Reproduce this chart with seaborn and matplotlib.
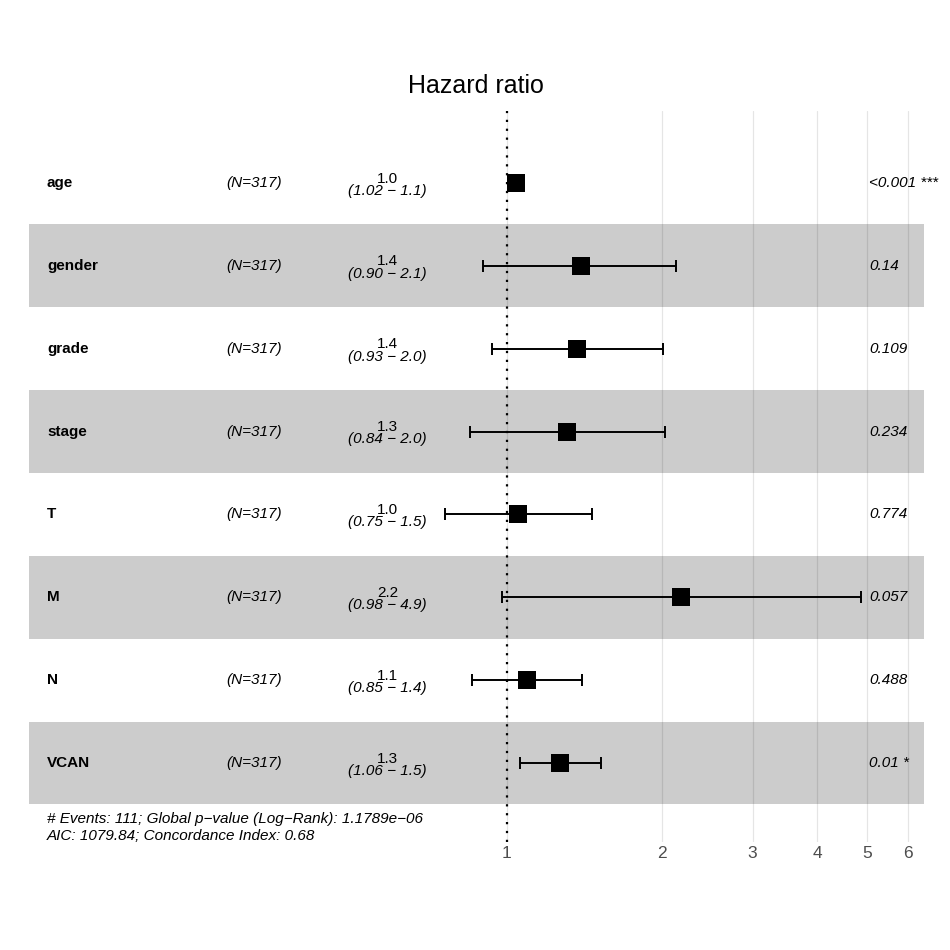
import numpy as np
import matplotlib
matplotlib.use('Agg')
import matplotlib.pyplot as plt
import matplotlib.transforms as mtransforms
import pandas as pd
import seaborn as sns

# Cox model results
variables = ['age', 'gender', 'grade', 'stage', 'T', 'M', 'N', 'VCAN']
n_labels = ['(N=317)'] * 8
hr = [1.04, 1.39, 1.37, 1.31, 1.05, 2.18, 1.095, 1.27]
ci_low = [1.02, 0.90, 0.935, 0.846, 0.757, 0.98, 0.854, 1.06]
ci_high = [1.06, 2.13, 2.01, 2.03, 1.46, 4.87, 1.40, 1.52]
hr_text = ['1.0', '1.4', '1.4', '1.3', '1.0', '2.2', '1.1', '1.3']
ci_text = ['(1.02 \u2212 1.1)', '(0.90 \u2212 2.1)', '(0.93 \u2212 2.0)', '(0.84 \u2212 2.0)',
           '(0.75 \u2212 1.5)', '(0.98 \u2212 4.9)', '(0.85 \u2212 1.4)', '(1.06 \u2212 1.5)']
p_text = ['<0.001 ***', '0.14', '0.109', '0.234', '0.774', '0.057', '0.488', '0.01 *']
x_ticks = [1, 2, 3, 4, 5, 6]
footer = ['# Events: 111; Global p\u2212value (Log\u2212Rank): 1.1789e\u221206',
          'AIC: 1079.84; Concordance Index: 0.68']

df = pd.DataFrame({'var': variables, 'hr': hr, 'lo': ci_low, 'hi': ci_high})
df['row'] = np.arange(len(df))

sns.set_style('white')
plt.rcParams['font.family'] = ['Liberation Sans', 'DejaVu Sans']
plt.rcParams['text.color'] = 'black'

fig = plt.figure(figsize=(9.5, 9.5), dpi=100)
ax = fig.add_axes([29 / 950, 1 - 842 / 950, 895 / 950, 731 / 950])

# alternating grey bands
for r in df['row']:
    if r % 2 == 1:
        ax.axhspan(r - 0.5, r + 0.5, color='#cccccc', lw=0, zorder=0.2)

ax.set_xscale('log')
ax.set_xlim(0.118, 6.456)
ax.set_ylim(7.953, -0.869)

for t in x_ticks:
    ax.axvline(t, color='black', alpha=0.1, lw=0.9, zorder=0.5)
ax.axvline(1, color='black', lw=1.6, linestyle=(0, (1, 3)), zorder=1)

ax.errorbar(df['hr'], df['row'], xerr=[df['hr'] - df['lo'], df['hi'] - df['hr']],
            fmt='none', ecolor='black', elinewidth=1.4, capsize=4.3, capthick=1.4, zorder=2)
sns.scatterplot(data=df, x='hr', y='row', marker='s', s=185, color='black',
                linewidth=0, ax=ax, zorder=3)

# table columns
tr = mtransforms.blended_transform_factory(ax.transAxes, ax.transData)
for i in range(len(variables)):
    ax.text(0.0201, i, variables[i], transform=tr, fontsize=11, fontweight='bold',
            ha='left', va='center')
    ax.text(0.2514, i, n_labels[i], transform=tr, fontsize=11, style='italic',
            ha='center', va='center')
    ax.text(0.401, i - 0.005, hr_text[i], transform=tr, fontsize=11,
            ha='center', va='baseline')
    ax.text(0.400, i + 0.01, ci_text[i], transform=tr, fontsize=11, style='italic',
            ha='center', va='top')
    ax.text(0.9385, i, p_text[i], transform=tr, fontsize=11, style='italic',
            ha='left', va='center')

ax.set_xticks(x_ticks)
ax.set_xticklabels([str(t) for t in x_ticks])
ax.xaxis.set_minor_locator(matplotlib.ticker.NullLocator())
ax.tick_params(axis='x', length=0, pad=3, labelsize=12.5, labelcolor='#4d4d4d')
ax.set_yticks([])
ax.set_xlabel('')
ax.set_ylabel('')
for s in ax.spines.values():
    s.set_visible(False)

fig.text(476 / 950, 1 - 86 / 950, 'Hazard ratio', fontsize=18, ha='center', va='center')
fig.text(47 / 950, 1 - 819 / 950, footer[0], fontsize=11, style='italic', ha='left', va='center')
fig.text(47 / 950, 1 - 836 / 950, footer[1], fontsize=11, style='italic', ha='left', va='center')

fig.savefig('out.png', dpi=100)
